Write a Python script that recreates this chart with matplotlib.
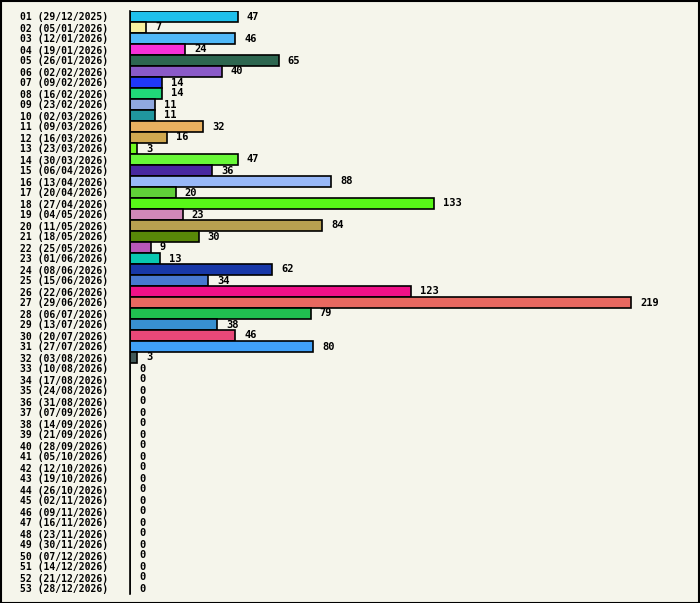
import matplotlib
matplotlib.use('Agg')
import matplotlib.pyplot as plt
from matplotlib.patches import Rectangle

# weekly counts, week number + monday date
weeks = ["01 (29/12/2025)", "02 (05/01/2026)", "03 (12/01/2026)", "04 (19/01/2026)",
         "05 (26/01/2026)", "06 (02/02/2026)", "07 (09/02/2026)", "08 (16/02/2026)",
         "09 (23/02/2026)", "10 (02/03/2026)", "11 (09/03/2026)", "12 (16/03/2026)",
         "13 (23/03/2026)", "14 (30/03/2026)", "15 (06/04/2026)", "16 (13/04/2026)",
         "17 (20/04/2026)", "18 (27/04/2026)", "19 (04/05/2026)", "20 (11/05/2026)",
         "21 (18/05/2026)", "22 (25/05/2026)", "23 (01/06/2026)", "24 (08/06/2026)",
         "25 (15/06/2026)", "26 (22/06/2026)", "27 (29/06/2026)", "28 (06/07/2026)",
         "29 (13/07/2026)", "30 (20/07/2026)", "31 (27/07/2026)", "32 (03/08/2026)",
         "33 (10/08/2026)", "34 (17/08/2026)", "35 (24/08/2026)", "36 (31/08/2026)",
         "37 (07/09/2026)", "38 (14/09/2026)", "39 (21/09/2026)", "40 (28/09/2026)",
         "41 (05/10/2026)", "42 (12/10/2026)", "43 (19/10/2026)", "44 (26/10/2026)",
         "45 (02/11/2026)", "46 (09/11/2026)", "47 (16/11/2026)", "48 (23/11/2026)",
         "49 (30/11/2026)", "50 (07/12/2026)", "51 (14/12/2026)", "52 (21/12/2026)",
         "53 (28/12/2026)"]

counts = [47, 7, 46, 24, 65, 40, 14, 14, 11, 11, 32, 16, 3, 47, 36, 88, 20, 133, 23, 84,
          30, 9, 13, 62, 34, 123, 219, 79, 38, 46, 80, 3] + [0] * 21

colors = ["#1fc0ec", "#f8f0a0", "#50b8f8", "#f830d8", "#2d6650", "#8a5ac8", "#2038f8",
          "#20d878", "#90a8e0", "#20969e", "#e8b060", "#d0a850", "#70f820", "#68f838",
          "#4828a0", "#98b8f8", "#60d038", "#58f818", "#d088b8", "#b8a050", "#588808",
          "#b858b8", "#08c8b0", "#1838a8", "#4878d0", "#f01088", "#e86860", "#20c050",
          "#3890d0", "#e84878", "#40a0f8", "#405858"] + ["#808080"] * 21

bg = "#f5f5eb"
W, H = 700, 603
fs = 7.0  # small enough that rows don't collide

fig = plt.figure(figsize=(W / 100, H / 100), dpi=100, facecolor=bg)
ax = fig.add_axes([130 / W, (H - 594) / H, 560 / W, 583 / H])
ax.set_facecolor(bg)

ys = list(range(len(weeks)))
ax.barh(ys, counts, height=1.0, color=colors, edgecolor="black", linewidth=1.2)

for y, v in zip(ys, counts):
    ax.annotate(str(v), (v, y), xytext=(6.5, 0), textcoords="offset points",
                va="center", ha="left", fontsize=fs + 0.5, fontweight="bold",
                family="DejaVu Sans Mono")

ax.set_xlim(0, 560 / 2.288)
ax.set_ylim(len(weeks) - 0.5, -0.5)
ax.set_yticks(ys)
ax.set_yticklabels(weeks, family="DejaVu Sans Mono", fontweight="bold", fontsize=fs)
ax.tick_params(axis="y", length=0, pad=16)
ax.set_xticks([])
for s in ["top", "right", "bottom"]:
    ax.spines[s].set_visible(False)
ax.spines["left"].set_linewidth(1.2)

# frame round the whole picture
fig.patches.append(Rectangle((0.5 / W, 0.5 / H), 1 - 1.5 / W, 1 - 1.5 / H,
                             transform=fig.transFigure, fill=False,
                             edgecolor="black", linewidth=1.5))

fig.savefig("out.png", dpi=100, facecolor=bg)
